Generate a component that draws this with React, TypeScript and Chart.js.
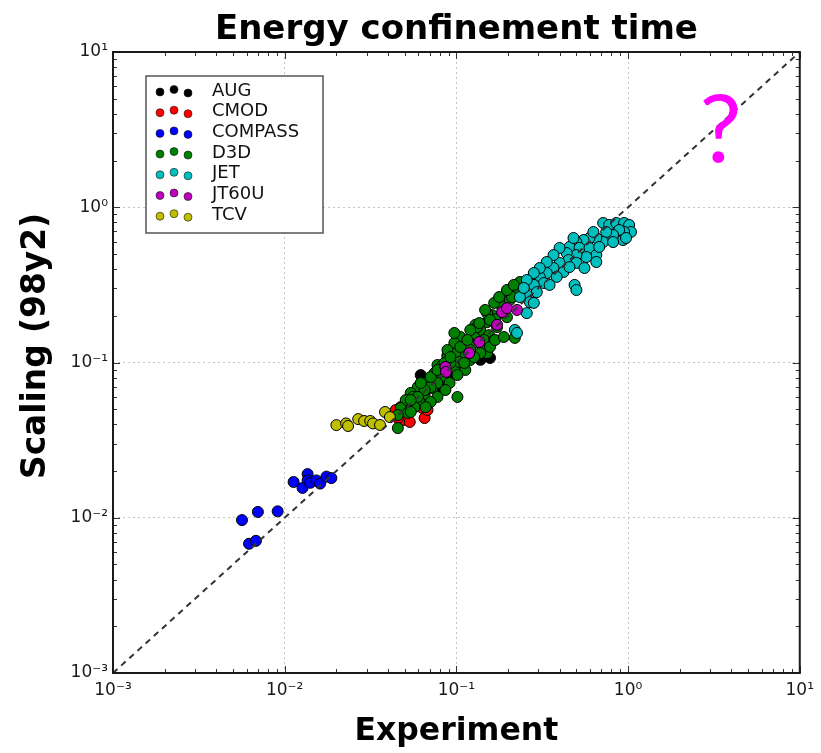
import { useEffect, useRef } from 'react';
import { Chart, registerables } from 'chart.js';

Chart.register(...registerables);

const TITLE = 'Energy confinement time';
const X_TITLE = 'Experiment';
const Y_TITLE = 'Scaling (98y2)';
const TICK_VALUES = [0.001, 0.01, 0.1, 1, 10];
const TICK_LABELS = ['10⁻³', '10⁻²', '10⁻¹', '10⁰', '10¹'];
const SERIES_NAMES = ['AUG', 'CMOD', 'COMPASS', 'D3D', 'JET', 'JT60U', 'TCV'];
const SERIES_COLORS = ['#000000', '#ff0000', '#0000ff', '#008000', '#00bfbf', '#bf00bf', '#bfbf00'];

const AUG_EXP = [0.062, 0.0456, 0.081, 0.097, 0.138, 0.157, 0.083, 0.0726, 0.095];
const AUG_SCL = [0.083, 0.0494, 0.079, 0.0855, 0.104, 0.107, 0.0685, 0.077, 0.0964];

const CMOD_EXP = [0.0474, 0.0507, 0.0635, 0.0653, 0.0488, 0.0535, 0.0456, 0.062, 0.0679, 0.0443, 0.0557];
const CMOD_SCL = [0.0516, 0.048, 0.0509, 0.0439, 0.0426, 0.0414, 0.0439, 0.0557, 0.0494, 0.0494, 0.0532];

const COMPASS_EXP = [0.00564, 0.00698, 0.0091, 0.0062, 0.0068, 0.01127, 0.0127, 0.0136, 0.0136, 0.0141, 0.0153, 0.0161, 0.0175, 0.0187];
const COMPASS_SCL = [0.00966, 0.0109, 0.011, 0.0068, 0.0071, 0.017, 0.01556, 0.0191, 0.0174, 0.0168, 0.0174, 0.0166, 0.0184, 0.018];

const D3D_EXP = [
  0.1014, 0.1159, 0.127, 0.0887, 0.1054, 0.1205, 0.0776, 0.0973, 0.1127, 0.0746,
  0.0679, 0.0853, 0.1014, 0.0912, 0.0596, 0.0726, 0.0863, 0.0542, 0.0653, 0.0776,
  0.1014, 0.0507, 0.0611, 0.0708, 0.0571, 0.0474, 0.0521, 0.0456,
  0.241, 0.247, 0.2254, 0.205, 0.1845, 0.197, 0.1614, 0.151, 0.1726, 0.1377,
  0.155, 0.127, 0.1377, 0.1189, 0.1054, 0.1205, 0.111, 0.0986, 0.0887, 0.104,
  0.0923, 0.219, 0.083, 0.151, 0.2344, 0.211, 0.129, 0.147, 0.168, 0.079,
  0.066, 0.0557,
  0.151, 0.157, 0.132, 0.1205, 0.1054, 0.0973, 0.0887, 0.145, 0.166, 0.157,
  0.1377, 0.127, 0.111, 0.0776, 0.0708, 0.0653, 0.0596, 0.0542, 0.062, 0.0708,
  0.0776, 0.0853, 0.0923, 0.1054, 0.1159, 0.0973,
  0.168, 0.189, 0.136, 0.147, 0.166, 0.1775, 0.197, 0.216, 0.0542, 0.0662, 0.0456,
];
const D3D_SCL = [
  0.1337, 0.126, 0.1337, 0.1117, 0.1084, 0.1038, 0.0964, 0.0935, 0.0895, 0.0855,
  0.0748, 0.0807, 0.083, 0.0738, 0.0695, 0.0685, 0.0665, 0.0637, 0.0618, 0.06,
  0.06, 0.0573, 0.0557, 0.0557, 0.0516, 0.0509, 0.0473, 0.0378,
  0.325, 0.302, 0.284, 0.253, 0.228, 0.196, 0.202, 0.182, 0.169, 0.162,
  0.15, 0.146, 0.1355, 0.1337, 0.13, 0.1205, 0.1117, 0.115, 0.1084, 0.1007,
  0.0993, 0.144, 0.0964, 0.115, 0.33, 0.264, 0.175, 0.13, 0.19, 0.087,
  0.0665, 0.06,
  0.208, 0.188, 0.169, 0.162, 0.146, 0.1337, 0.1205, 0.1396, 0.1396, 0.126,
  0.115, 0.1084, 0.0993, 0.0738, 0.0695, 0.0665, 0.06, 0.0573, 0.0738, 0.0807,
  0.0895, 0.0993, 0.1084, 0.126, 0.1396, 0.155,
  0.1396, 0.146, 0.1795, 0.218, 0.242, 0.264, 0.293, 0.316, 0.048, 0.0516, 0.0459,
];

const JET_EXP = [
  0.716, 0.776, 0.853, 0.948, 1.014, 1.04, 0.948, 0.887, 0.935, 0.818,
  0.746, 0.716, 0.653, 0.596, 0.55, 0.5, 0.456, 0.521, 0.596, 0.653,
  0.571, 0.5, 0.439, 0.45, 0.5, 0.399, 0.368, 0.421, 0.456, 0.336,
  0.384, 0.306, 0.323, 0.2825, 0.349, 0.294, 0.257, 0.268, 0.2344, 0.488,
  0.5, 0.973, 0.219, 0.2254, 0.257, 0.2825,
  0.399, 0.368, 0.336, 0.306, 0.2825, 0.257, 0.247, 0.481, 0.628, 0.679, 0.818, 0.557, 0.653,
];
const JET_SCL = [
  0.792, 0.769, 0.792, 0.792, 0.769, 0.693, 0.693, 0.713, 0.615, 0.662,
  0.693, 0.597, 0.634, 0.634, 0.615, 0.597, 0.555, 0.547, 0.547, 0.492,
  0.478, 0.492, 0.507, 0.457, 0.438, 0.438, 0.406, 0.383, 0.412, 0.377,
  0.356, 0.356, 0.325, 0.316, 0.316, 0.284, 0.272, 0.245, 0.264, 0.316,
  0.293, 0.634, 0.162, 0.155, 0.208, 0.242,
  0.547, 0.492, 0.444, 0.406, 0.377, 0.34, 0.302, 0.634, 0.693, 0.555, 0.597, 0.406, 0.444,
];

const JT60U_EXP = [0.0863, 0.087, 0.1189, 0.136, 0.1726, 0.1845, 0.197, 0.2254];
const JT60U_SCL = [0.0935, 0.087, 0.115, 0.1355, 0.175, 0.211, 0.224, 0.218];

const TCV_EXP = [0.02, 0.0228, 0.0234, 0.0268, 0.029, 0.0315, 0.0327, 0.0359, 0.0384, 0.041];
const TCV_SCL = [0.0395, 0.0405, 0.039, 0.0432, 0.042, 0.042, 0.0405, 0.0396, 0.048, 0.0445];

const DIAGONAL_EXP = [0.001, 10];
const DIAGONAL_SCL = [0.001, 10];

const QUESTION_TEXT = '?';
const QUESTION_EXP = 3.45;
const QUESTION_SCL = 1.95;

const SERIES_EXP = [AUG_EXP, CMOD_EXP, COMPASS_EXP, D3D_EXP, JET_EXP, JT60U_EXP, TCV_EXP];
const SERIES_SCL = [AUG_SCL, CMOD_SCL, COMPASS_SCL, D3D_SCL, JET_SCL, JT60U_SCL, TCV_SCL];

const FONT = '"DejaVu Sans", sans-serif';

const tickLabel = (v: number) => {
  const i = TICK_VALUES.findIndex((t) => Math.abs(Math.log10(t) - Math.log10(v)) < 1e-6);
  return i >= 0 ? TICK_LABELS[i] : '';
};

const decorPlugin = {
  id: 'decor',
  afterDraw(chart: any) {
    const { ctx, chartArea: a, scales } = chart;
    const xs = scales.x;
    const ys = scales.y;
    ctx.save();

    // inward ticks on all four sides
    ctx.strokeStyle = '#333';
    ctx.lineWidth = 1;
    for (let d = -3; d <= 0; d++) {
      for (let m = 1; m <= 10; m++) {
        const v = m * Math.pow(10, d);
        const len = m === 1 || m === 10 ? 7 : 4;
        const px = Math.round(xs.getPixelForValue(v)) + 0.5;
        const py = Math.round(ys.getPixelForValue(v)) + 0.5;
        ctx.beginPath();
        ctx.moveTo(px, a.bottom);
        ctx.lineTo(px, a.bottom - len);
        ctx.moveTo(px, a.top);
        ctx.lineTo(px, a.top + len);
        ctx.moveTo(a.left, py);
        ctx.lineTo(a.left + len, py);
        ctx.moveTo(a.right, py);
        ctx.lineTo(a.right - len, py);
        ctx.stroke();
      }
    }

    // frame
    ctx.strokeStyle = '#1a1a1a';
    ctx.lineWidth = 2;
    ctx.strokeRect(a.left, a.top, a.right - a.left, a.bottom - a.top);

    // question mark annotation
    ctx.fillStyle = '#ff00ff';
    ctx.font = `normal 94px Lato, ${FONT}`;
    ctx.textAlign = 'center';
    ctx.textBaseline = 'alphabetic';
    ctx.fillText(QUESTION_TEXT, xs.getPixelForValue(QUESTION_EXP), ys.getPixelForValue(QUESTION_SCL));

    // legend
    const lx = a.left + 33;
    const ly = a.top + 24;
    const lw = 177;
    const lh = 157;
    ctx.fillStyle = '#ffffff';
    ctx.fillRect(lx, ly, lw, lh);
    ctx.strokeStyle = '#555';
    ctx.lineWidth = 1.5;
    ctx.strokeRect(lx, ly, lw, lh);
    const offs = [1, -1.5, 2];
    SERIES_NAMES.forEach((name, i) => {
      const ry = ly + 15 + i * 20.7;
      for (let k = 0; k < 3; k++) {
        ctx.beginPath();
        ctx.arc(lx + 14 + k * 14, ry + offs[k], 4, 0, Math.PI * 2);
        ctx.fillStyle = SERIES_COLORS[i];
        ctx.fill();
        ctx.strokeStyle = '#111';
        ctx.lineWidth = 0.6;
        ctx.stroke();
      }
      ctx.fillStyle = '#111';
      ctx.font = `18px ${FONT}`;
      ctx.textAlign = 'left';
      ctx.textBaseline = 'middle';
      ctx.fillText(name, lx + 66, ry);
    });

    // titles
    const cx = (a.left + a.right) / 2;
    ctx.fillStyle = '#000';
    ctx.textAlign = 'center';
    ctx.textBaseline = 'alphabetic';
    ctx.font = `bold 34px ${FONT}`;
    ctx.fillText(TITLE, cx, 39, 484);
    ctx.font = `bold 32px ${FONT}`;
    ctx.fillText(X_TITLE, cx, 740, 204);
    ctx.translate(45, 346);
    ctx.rotate(-Math.PI / 2);
    ctx.font = `bold 33px ${FONT}`;
    ctx.fillText(Y_TITLE, 0, 0, 266);
    ctx.restore();
  },
};

export default function App() {
  const ref = useRef<HTMLCanvasElement | null>(null);

  useEffect(() => {
    document.body.style.margin = '0';
    const canvas = ref.current;
    if (!canvas) return;

    const scatterSets = SERIES_NAMES.map((name, i) => ({
      type: 'scatter' as const,
      label: name,
      data: SERIES_EXP[i].map((x, j) => ({ x, y: SERIES_SCL[i][j] })),
      backgroundColor: SERIES_COLORS[i],
      borderColor: '#000',
      borderWidth: 1,
      pointRadius: 5.5,
      order: SERIES_NAMES.length - i,
    }));

    const lineSet = {
      type: 'line' as const,
      label: 'diagonal',
      data: DIAGONAL_EXP.map((x, j) => ({ x, y: DIAGONAL_SCL[j] })),
      borderColor: '#333',
      borderWidth: 2,
      borderDash: [6, 5],
      pointRadius: 0,
      fill: false,
      order: 0,
    };

    const axisCommon = {
      type: 'logarithmic' as const,
      min: 0.001,
      max: 10,
      afterBuildTicks: (s: any) => {
        s.ticks = TICK_VALUES.map((v) => ({ value: v }));
      },
      grid: { color: '#c4c4c4', lineWidth: 1, drawTicks: false },
      border: { display: false, dash: [2, 3] },
    };

    const chart = new Chart(canvas, {
      type: 'scatter',
      data: { datasets: [...scatterSets, lineSet] as any },
      options: {
        responsive: false,
        animation: false,
        layout: { padding: { top: 52, right: 16, left: 0, bottom: 0 } },
        plugins: {
          legend: { display: false },
          tooltip: { enabled: false },
          title: { display: false },
        },
        scales: {
          x: {
            ...axisCommon,
            ticks: {
              callback: (v: any) => tickLabel(Number(v)),
              font: { family: FONT, size: 17 },
              color: '#1a1a1a',
              padding: 7,
              maxRotation: 0,
              autoSkip: false,
            },
            afterFit: (s: any) => {
              s.height = 80;
            },
          },
          y: {
            ...axisCommon,
            ticks: {
              callback: (v: any) => tickLabel(Number(v)),
              font: { family: FONT, size: 17 },
              color: '#1a1a1a',
              padding: 5,
              autoSkip: false,
            },
            afterFit: (s: any) => {
              s.width = 113;
            },
          },
        },
      } as any,
      plugins: [decorPlugin],
    });

    return () => chart.destroy();
  }, []);

  return <canvas ref={ref} width={821} height={753} style={{ display: 'block' }} />;
}
